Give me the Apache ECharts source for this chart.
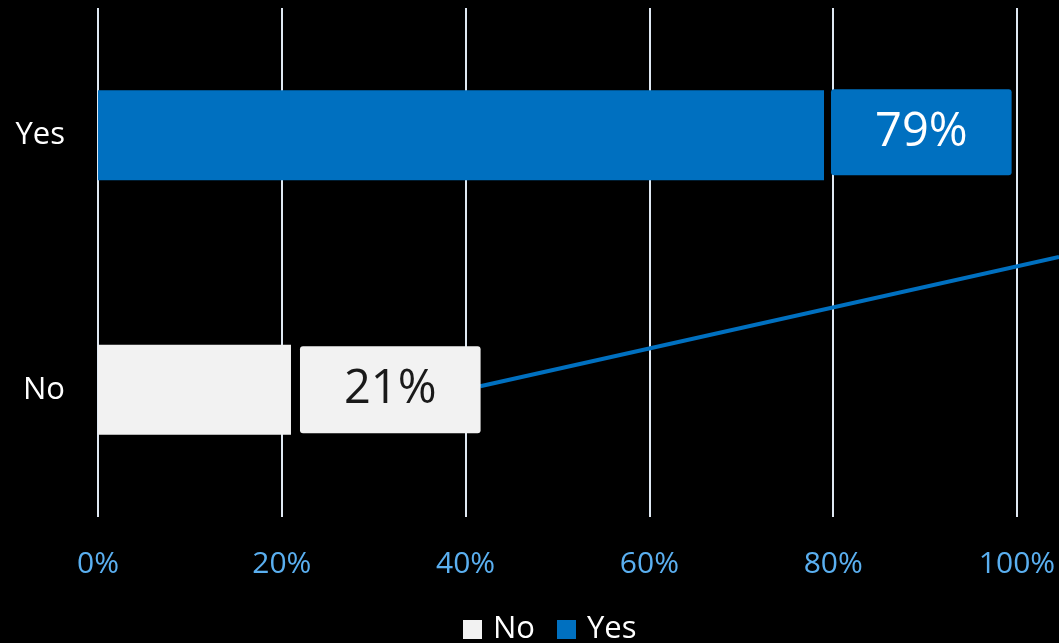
<!DOCTYPE html>
<html><head><meta charset="utf-8">
<script src="https://cdn.jsdelivr.net/npm/echarts@6/dist/echarts.min.js"></script>
<style>html,body{margin:0;padding:0;background:#000;}#c{width:1059px;height:643px;}</style>
</head><body><div id="c"></div>
<script>
var categories = ['No', 'Yes'];
var noValues = [21, null];
var yesValues = [null, 79];
var xTicks = [0, 20, 40, 60, 80, 100];
var linePoints = [[41.6, 25.7], [104.6, 51.1]];

var chart = echarts.init(document.getElementById('c'));
var font = 'Open Sans';
chart.setOption({
  backgroundColor: '#000000',
  animation: false,
  textStyle: { fontFamily: font },
  grid: [
    { left: 98, right: 42, top: 8, bottom: 126, containLabel: false },
    { left: 98, right: 0, top: 8, bottom: 126, containLabel: false }
  ],
  legend: {
    data: ['No', 'Yes'], bottom: -7, left: 458,
    itemWidth: 19, itemHeight: 19, itemGap: 22, icon: 'rect',
    textStyle: { color: '#ffffff', fontSize: 31, fontFamily: font, padding: [0, 0, 0, 6] }
  },
  xAxis: [{
    type: 'value', min: 0, max: 100, interval: 20, gridIndex: 0,
    axisLine: { show: false }, axisTick: { show: false },
    splitLine: { show: true, lineStyle: { color: '#dfe8f2', width: 2 } },
    axisLabel: { color: '#5aaff0', fontSize: 30, fontFamily: font, margin: 32, formatter: '{value}%' }
  }, {
    type: 'value', min: 0, max: 104.6, gridIndex: 1, show: false
  }],
  yAxis: [{
    type: 'category', data: categories, gridIndex: 0,
    axisLine: { show: false }, axisTick: { show: false },
    axisLabel: { color: '#ffffff', fontSize: 31, fontFamily: font, margin: 33 }
  }, {
    type: 'value', min: 0, max: 100, show: false, gridIndex: 1
  }],
  series: [{
    name: 'No', type: 'bar', stack: 'total', data: noValues, barWidth: 90,
    itemStyle: { color: '#F2F2F2' },
    label: {
      show: true, position: 'right', distance: 9, formatter: '{c}%',
      color: '#1a1a1a', fontSize: 47, fontFamily: font,
      backgroundColor: '#F2F2F2', borderRadius: 3,
      padding: [20, 44, 20, 44]
    }
  }, {
    name: 'Yes', type: 'bar', stack: 'total', data: yesValues, barWidth: 90,
    itemStyle: { color: '#0070C0' },
    label: {
      show: true, position: 'right', distance: 7, formatter: '{c}%',
      color: '#ffffff', fontSize: 47, fontFamily: font,
      backgroundColor: '#0070C0', borderRadius: 3,
      padding: [20, 44, 19, 44], offset: [0, -3]
    }
  }, {
    name: 'trend', type: 'line', xAxisIndex: 1, yAxisIndex: 1, data: linePoints,
    showSymbol: false, symbol: 'none', clip: false, silent: true,
    lineStyle: { color: '#0070C0', width: 4 }, z: 1
  }]
});
</script></body></html>
